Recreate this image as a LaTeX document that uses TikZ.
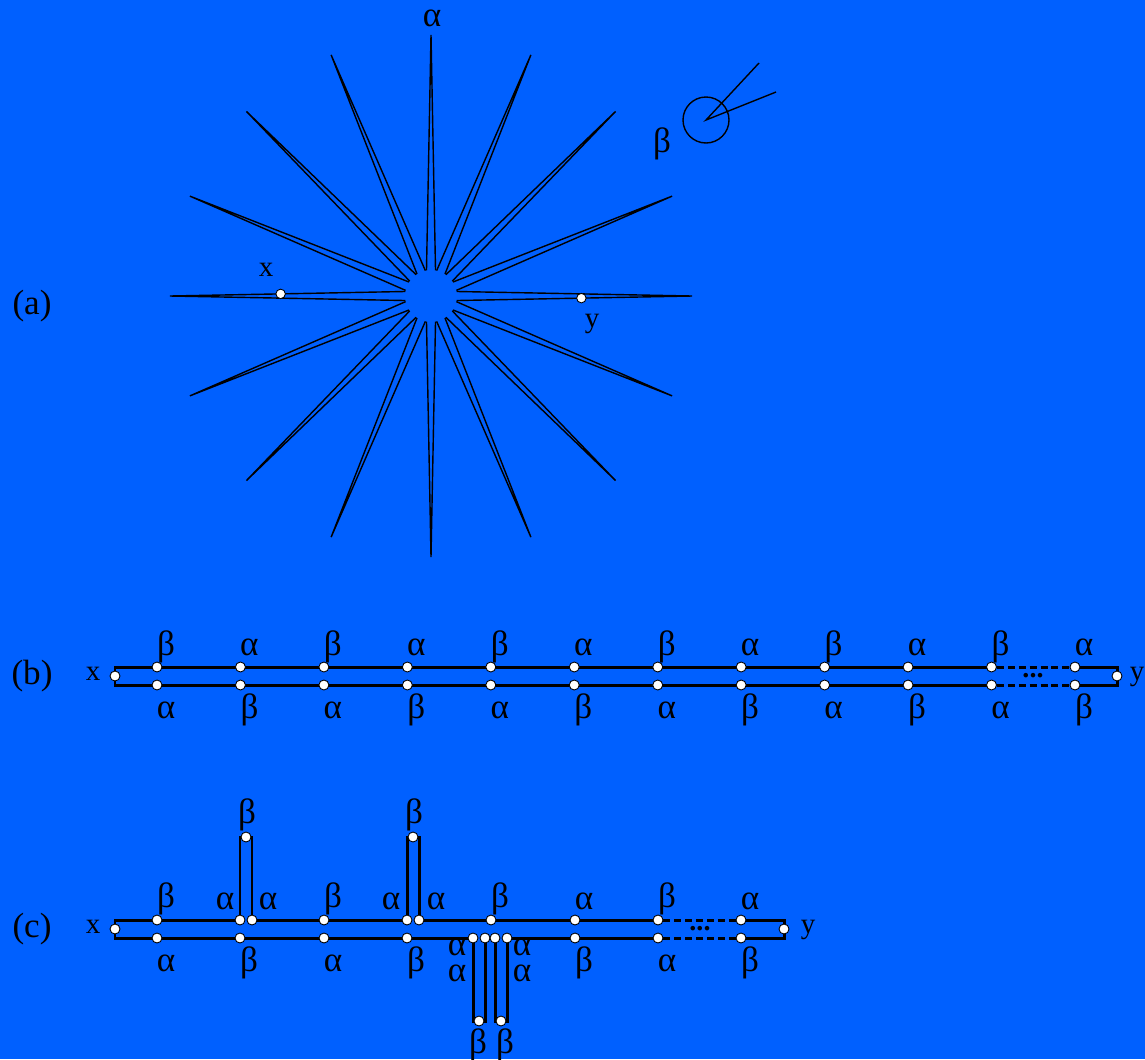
\documentclass[tikz,border=0pt]{standalone}
\usepackage{fontspec}
\setmainfont{Liberation Serif}
\usetikzlibrary{calc, backgrounds}
\definecolor{bgblue}{HTML}{0060FF}
\tikzset{
	dotnode/.style={
			circle,
			draw=black,
			fill=white,
			line width=0.5pt,
			minimum size=2mm,
			inner sep=0pt
		},
	txtnode/.style={
			inner sep=0pt,
			anchor=base,
			font=\fontsize{20}{22}\selectfont
		},
	endnode/.style={
			txtnode,
			font=\fontsize{16.5}{18}\selectfont
		},
	ladder/.style={
			line width=1.7pt,
			line join=miter
		},
	gapline/.style={
			ladder,
			dash pattern=on 4pt off 2.2pt
		},
	spike/.style={
			line width=0.8pt
		}
}

\begin{document}
\begin{tikzpicture}[x=0.02cm, y=-0.02cm]
	\begin{scope}[on background layer]
		\fill[bgblue] (0,0) rectangle (1145,1059);
	\end{scope}
	\useasboundingbox (0,0) rectangle (1145,1059);

	% (a) the star
	\coordinate (ctr) at (431,296);
	\foreach \a in {0,22.5,...,337.5}
		\draw[spike] ($(ctr)+(\a-10:26)$) -- ($(ctr)+(\a:261)$) -- ($(ctr)+(\a+10:26)$);
	\coordinate (xtip) at ($(ctr)+(180:261)$);
	\coordinate (xbase) at ($(ctr)+(190:26)$);
	\coordinate (ytip) at ($(ctr)+(0:261)$);
	\coordinate (ybase) at ($(ctr)+(10:26)$);
	\node[dotnode, minimum size=1.9mm] (xa) at ($(xtip)!0.47!(xbase)$) {};
	\node[dotnode, minimum size=1.9mm] (ya) at ($(ytip)!0.47!(ybase)$) {};

	\coordinate (hub) at (706,120);
	\coordinate (arm1) at (759,63);
	\coordinate (arm2) at (776,92);
	\draw[spike] (hub) circle[radius=23];
	\draw[spike] (arm1) -- (hub) -- (arm2);

	\node[txtnode] (atag) at (32,314) {(a)};
	\node[txtnode] (alpha0) at (432,26) {α};
	\node[txtnode] (beta0) at (662,152) {β};
	\node[endnode] (xlab) at (266,276) {x};
	\node[endnode] (ylab) at (592,327) {y};

	% (b) the long ladder
	\node[txtnode] (btag) at (32,684) {(b)};
	\node[dotnode] (bl) at (115,676) {};
	\node[dotnode] (br) at (1117,676) {};
	\node[endnode] (bx) at (93,680) {x};
	\node[endnode] (by) at (1137,680) {y};
	\foreach \i in {1,...,12} {
		\pgfmathsetmacro\bx{157+83.45*(\i-1)}
		\node[dotnode] (bt\i) at (\bx,667) {};
		\node[dotnode] (bb\i) at (\bx,685) {};
		\node[txtnode] (bu\i) at (\bx+9,655) {\ifodd\i β\else α\fi};
		\node[txtnode] (bd\i) at (\bx+9,718) {\ifodd\i α\else β\fi};
	}
	\node[endnode, font=\fontsize{16}{18}\selectfont\bfseries] (bdots) at (1033,677) {...};
	\begin{scope}[on background layer]
		\draw[ladder] (bt11.center) -- (bt1 -| bl) -- (bb1 -| bl) -- (bb11.center);
		\draw[ladder] (bt12.center) -- (bt12 -| br) -- (bb12 -| br) -- (bb12.center);
		\draw[gapline] (bt11) -- (bt12);
		\draw[gapline] (bb11) -- (bb12);
	\end{scope}

	% (c) the ladder with loops
	\node[txtnode] (ctag) at (32,937) {(c)};
	\node[dotnode] (cl) at (115,929) {};
	\node[dotnode] (cr) at (784,929) {};
	\node[endnode] (cx) at (93,933) {x};
	\node[endnode] (cy) at (808,933) {y};

	\node[dotnode] (ct1) at (157,920) {};
	\node[dotnode] (ct2) at (240,920) {};
	\node[dotnode] (ct3) at (252,920) {};
	\node[dotnode] (ct4) at (324,920) {};
	\node[dotnode] (ct5) at (407,920) {};
	\node[dotnode] (ct6) at (419,920) {};
	\node[dotnode] (ct7) at (491,920) {};
	\node[dotnode] (ct8) at (575,920) {};
	\node[dotnode] (ct9) at (658,920) {};
	\node[dotnode] (ct10) at (741,920) {};
	\node[dotnode] (cu1) at (246,837) {};
	\node[dotnode] (cu2) at (413,837) {};

	\node[dotnode] (cb1) at (157,938) {};
	\node[dotnode] (cb2) at (240,938) {};
	\node[dotnode] (cb3) at (324,938) {};
	\node[dotnode] (cb4) at (407,938) {};
	\node[dotnode] (cb5) at (473,938) {};
	\node[dotnode] (cb6) at (485,938) {};
	\node[dotnode] (cb7) at (495,938) {};
	\node[dotnode] (cb8) at (507,938) {};
	\node[dotnode] (cb9) at (575,938) {};
	\node[dotnode] (cb10) at (658,938) {};
	\node[dotnode] (cb11) at (741,938) {};
	\node[dotnode] (cd1) at (479,1021) {};
	\node[dotnode] (cd2) at (501,1021) {};

	\begin{scope}[on background layer]
		\draw[ladder] (ct9.center) -- (ct6.center) |- (cu2.center) -| (ct5.center)
			-- (ct3.center) |- (cu1.center) -| (ct2.center) -- (ct1 -| cl)
			-- (cb1 -| cl) -- (cb5.center) |- (cd1.center) -| (cb6.center)
			-- (cb7.center) |- (cd2.center) -| (cb8.center) -- (cb10.center);
		\draw[ladder] (ct10.center) -- (ct10 -| cr) -- (cb11 -| cr) -- (cb11.center);
		\draw[gapline] (ct9) -- (ct10);
		\draw[gapline] (cb10) -- (cb11);
	\end{scope}
	\node[endnode, font=\fontsize{16}{18}\selectfont\bfseries] (cdots) at (700,930) {...};

	\node[txtnode] (cu1l) at (166,907) {β};
	\node[txtnode] (cu2l) at (225,909) {α};
	\node[txtnode] (cu3l) at (268,909) {α};
	\node[txtnode] (cu4l) at (333,907) {β};
	\node[txtnode] (cu5l) at (391,909) {α};
	\node[txtnode] (cu6l) at (436,909) {α};
	\node[txtnode] (cu7l) at (500,907) {β};
	\node[txtnode] (cu8l) at (584,909) {α};
	\node[txtnode] (cu9l) at (667,907) {β};
	\node[txtnode] (cu10l) at (750,909) {α};
	\node[txtnode] (cl1l) at (247,823) {β};
	\node[txtnode] (cl2l) at (414,823) {β};

	\node[txtnode] (cd1l) at (166,971) {α};
	\node[txtnode] (cd2l) at (249,971) {β};
	\node[txtnode] (cd3l) at (333,971) {α};
	\node[txtnode] (cd4l) at (416,971) {β};
	\node[txtnode] (cd5l) at (584,971) {β};
	\node[txtnode] (cd6l) at (667,971) {α};
	\node[txtnode] (cd7l) at (750,971) {β};
	\node[txtnode] (cs1l) at (457,955) {α};
	\node[txtnode] (cs2l) at (457,981) {α};
	\node[txtnode] (cs3l) at (522,955) {α};
	\node[txtnode] (cs4l) at (522,981) {α};
	\node[txtnode] (cf1l) at (478,1053) {β};
	\node[txtnode] (cf2l) at (505,1053) {β};
\end{tikzpicture}
\end{document}
